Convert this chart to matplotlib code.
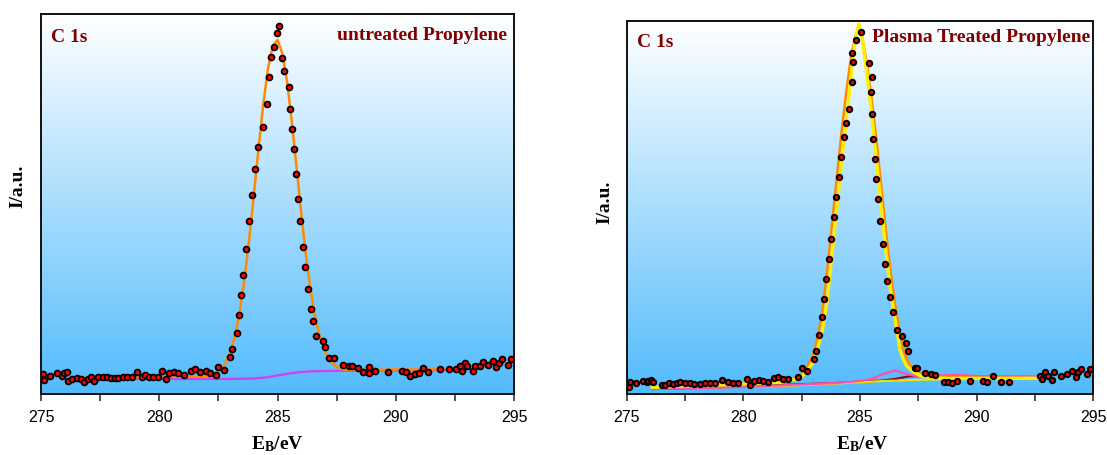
import numpy as np
import matplotlib
matplotlib.use("Agg")
import matplotlib.pyplot as plt

plt.rcParams['mathtext.fontset'] = 'custom'
plt.rcParams['mathtext.rm'] = 'Liberation Serif'
plt.rcParams['mathtext.bf'] = 'Liberation Serif:bold'
plt.rcParams['font.family'] = ['Liberation Sans', 'DejaVu Sans']

# ---------------- data: untreated (left) ----------------
left_x = [275.10, 275.13, 275.38, 275.66, 275.88, 275.99, 276.09, 276.13, 276.30, 276.51,
          276.68, 276.82, 277.00, 277.12, 277.25, 277.42, 277.61, 277.80, 277.96, 278.13,
          278.27, 278.46, 278.63, 278.84, 279.07, 279.26, 279.40, 279.57, 279.75, 279.96,
          280.13, 280.29, 280.43, 280.63, 280.81, 281.05, 281.35, 281.51, 281.73, 281.97,
          282.15, 282.39, 282.50, 282.74, 283.00, 283.07, 283.30, 283.38, 283.46, 283.55,
          283.67, 283.80, 283.93, 284.05, 284.18, 284.38, 284.55, 284.66, 284.72, 284.86,
          284.97, 285.08, 285.21, 285.29, 285.49, 285.53, 285.62, 285.70, 285.79, 285.87,
          285.96, 286.08, 286.17, 286.29, 286.42, 286.51, 286.63, 286.94, 287.01, 287.18,
          287.39, 287.79, 288.04, 288.17, 288.42, 288.63, 288.89, 288.89, 289.13, 289.69,
          290.26, 290.43, 290.61, 290.82, 291.00, 291.17, 291.36, 291.85, 292.27, 292.55,
          292.72, 292.82, 292.91, 293.03, 293.25, 293.33, 293.57, 293.67, 293.88, 294.13,
          294.25, 294.35, 294.49, 294.73, 294.87]
left_y = [20, 14.3, 17.7, 21, 18.3, 20.7, 21.7, 13.3, 15, 15.7,
          15, 12.3, 15, 16.7, 13.3, 16.7, 16.7, 16.7, 15.7, 15.7,
          15.7, 16.7, 16.7, 16.7, 21.7, 16.7, 19, 16.7, 16.7, 16.7,
          22.7, 15, 20.7, 21.7, 20.7, 19, 22.7, 25, 21.7, 22.7,
          21, 19, 27.3, 24.3, 36.7, 45, 61, 79, 99, 119,
          145, 173, 199, 225, 247, 267, 290, 317, 337, 347,
          361, 368, 336, 323, 307, 285, 265, 245, 220, 195,
          173, 147, 127, 105, 85, 73, 58, 53, 47, 36,
          36, 29, 28, 28, 26, 22, 27, 21, 23, 22,
          23, 22, 18, 20, 21, 26, 22, 25, 25, 25,
          28, 23, 31, 28, 23, 28, 28, 32, 29, 33,
          27, 31, 35, 29, 35]

left_fit_x = [276.2, 278.0, 280.0, 281.0, 282.0, 282.2, 282.4, 282.6, 282.8, 283.0,
              283.2, 283.4, 283.6, 283.8, 284.0, 284.2, 284.4, 284.6, 284.8, 285.0,
              285.2, 285.4, 285.6, 285.8, 286.0, 286.2, 286.4, 286.6, 286.8, 287.0,
              287.2, 287.4, 287.6, 287.8, 288.0, 289.0, 290.0, 291.0, 292.5]
left_fit_y = [16, 16.5, 17, 17.5, 17, 18, 20, 24, 31, 42,
              58, 82, 114, 154, 199, 246, 290, 326, 348, 354,
              341, 313, 273.5, 228, 182, 139, 104, 76, 56, 43,
              34, 29, 26, 24.5, 24, 24, 24.5, 24.5, 25]

left_bg_x = [276.2, 283.0, 284.0, 284.5, 285.0, 285.5, 286.0, 286.5, 287.0, 288.6, 292.5]
left_bg_y = [15, 15, 15.5, 16.5, 18.5, 20.5, 22, 22.7, 23, 23.3, 24]

# ---------------- data: plasma treated (right) ----------------
right_x = [275.10, 275.14, 275.39, 275.71, 275.88, 275.93, 276.04, 276.14, 276.50, 276.64,
           276.81, 277.00, 277.14, 277.28, 277.50, 277.71, 277.90, 278.14, 278.36, 278.57,
           278.78, 279.07, 279.35, 279.57, 279.76, 280.14, 280.29, 280.46, 280.67, 280.86,
           281.07, 281.33, 281.50, 281.71, 281.93, 282.36, 282.50, 282.74, 283.03, 283.11,
           283.26, 283.37, 283.46, 283.54, 283.67, 283.76, 283.89, 283.97, 284.10, 284.19,
           284.32, 284.40, 284.54, 284.67, 284.69, 284.67, 284.82, 285.04, 285.39, 285.50,
           285.47, 285.50, 285.56, 285.65, 285.69, 285.78, 285.86, 285.99, 286.07, 286.16,
           286.29, 286.41, 286.57, 286.81, 286.96, 287.04, 287.36, 287.46, 287.79, 288.04,
           288.21, 288.61, 288.78, 288.93, 289.14, 289.72, 290.26, 290.43, 290.71, 291.03,
           291.39, 292.72, 292.79, 292.93, 293.05, 293.24, 293.33, 293.62, 293.86, 294.10,
           294.25, 294.33, 294.47, 294.72, 294.86]
right_y = [7.3, 12.3, 11, 13.3, 11.7, 13.3, 14.3, 12.3, 9, 9,
           11, 10, 11, 11.7, 10.7, 10.7, 10, 10, 10.7, 11,
           10.7, 14.3, 12.3, 11, 11, 15, 9, 13.3, 14, 13.3,
           12.3, 16, 17.3, 15, 15, 17.3, 25.7, 22.7, 35, 43.3,
           59.3, 77, 95, 115, 135, 155, 177, 197, 217, 237,
           257, 271, 285, 312, 332, 341, 354, 362, 331, 317,
           302, 280, 255, 235, 215, 195, 173, 150, 130, 113,
           97, 82, 64, 58.3, 51, 43.3, 26, 26, 20.7, 20,
           19, 12.3, 11.7, 11, 12.7, 12.7, 12.7, 12.3, 18.3, 11.7,
           12.3, 18.3, 15, 21.7, 18.3, 14, 21.7, 18.3, 20, 23.3,
           17.3, 21.7, 25, 20, 25]

right_env_x = [276.1, 278.0, 280.0, 281.0, 281.6, 282.0, 282.4, 282.7, 283.0, 283.2,
               283.4, 283.6, 283.8, 284.0, 284.2, 284.4, 284.6, 284.8, 284.95, 285.1,
               285.3, 285.5, 285.7, 285.9, 286.1, 286.3, 286.5, 286.6, 286.7, 286.85,
               287.0, 287.3, 287.6, 288.0, 288.7, 290.0, 292.6]
right_env_y = [6.7, 8.5, 10.0, 11.0, 11.7, 14, 15, 22, 32, 47,
               65, 95, 140, 185, 230, 272, 315, 355, 370, 355,
               320, 280, 235, 190, 145, 105, 75, 62, 45, 35,
               28, 22, 18, 16.5, 15.5, 15.5, 15.7]

right_sum_x = [276.1, 280.0, 282.0, 282.4, 282.7, 283.0, 283.2, 283.4, 283.6, 283.8,
               284.0, 284.2, 284.4, 284.6, 284.8, 284.95, 285.1, 285.3, 285.5, 285.7,
               285.9, 286.1, 286.3, 286.5, 286.7, 286.9, 287.1, 287.4, 287.8, 288.5,
               292.6]
right_sum_y = [6.7, 10.0, 15, 17, 25, 40, 58, 85, 125, 170,
               215, 260, 300, 335, 358, 364, 356, 330, 295, 255,
               210, 165, 125, 90, 62, 42, 30, 23, 19, 17,
               16]

right_c2_x = [276.1, 280.0, 282.0, 283.0, 284.0, 285.0, 285.5, 286.0, 286.5, 287.0,
              287.3, 288.0, 288.8, 289.3, 290.1, 292.6]
right_c2_y = [5, 7, 9, 10, 11, 13, 15, 20, 23.5, 20,
              18.3, 18, 19, 19, 17.7, 17]

right_c3_x = [276.1, 280.0, 281.6, 284.0, 285.9, 286.5, 287.1, 287.5, 288.1, 292.6]
right_c3_y = [5, 7.5, 9, 11, 13.3, 15, 17.7, 18, 17.3, 17]

right_bg_x = [276.1, 281.6, 284.0, 286.0, 288.0, 290.0, 292.6]
right_bg_y = [5.5, 8, 10.5, 13, 14.5, 15.2, 15.7]

xticks = [275, 280, 285, 290, 295]
xminor = [277.5, 282.5, 287.5, 292.5]

# ---------------- figure ----------------
W, H = 1107, 456
fig = plt.figure(figsize=(W / 100, H / 100), dpi=100)
ax1 = fig.add_axes([41 / W, 61 / H, 473 / W, 380 / H])
ax2 = fig.add_axes([626.7 / W, 61 / H, 466.6 / W, 373 / H])

top = np.array([1.0, 1.0, 1.0])
bot = np.array([83, 187, 252]) / 255.0
t = np.linspace(0, 1, 256)[:, None]
grad = (top * (1 - t) + bot * t)[:, None, :]

serif_bold = dict(family='Liberation Serif', weight='bold')

for ax, ylim in ((ax1, 380), (ax2, 373)):
    ax.imshow(grad, extent=[0, 1, 0, 1], transform=ax.transAxes, aspect='auto',
              zorder=0, interpolation='bilinear')
    ax.set_xlim(275, 295)
    ax.set_ylim(0, ylim)
    ax.set_xticks(xticks)
    ax.set_xticks(xminor, minor=True)
    ax.set_yticks([])
    ax.tick_params(axis='x', which='both', direction='out', length=5, width=1.1,
                   labelsize=11.5, pad=6, color='#222222')
    for s in ax.spines.values():
        s.set_linewidth(1.4)
        s.set_color('#111111')
        s.set_zorder(10)

# left panel
ax1.plot(left_bg_x, left_bg_y, color='#d63cf2', lw=1.6, zorder=2)
ax1.plot(left_fit_x, left_fit_y, color='#ff8a00', lw=1.8, zorder=3)
ax1.plot(left_x, left_y, ls='none', marker='o', ms=4.2, mfc='#ff0000', mec='black',
         mew=1.3, zorder=4)
ax1.text(0.021, 0.942, 'C 1s', transform=ax1.transAxes, ha='left', va='center',
         fontsize=14, color='#800000', **serif_bold)
ax1.text(0.986, 0.947, 'untreated Propylene', transform=ax1.transAxes, ha='right',
         va='center', fontsize=14, color='#800000', **serif_bold)

# right panel
ax2.plot(right_c3_x, right_c3_y, color='#8b0a1a', lw=1.6, zorder=2)
ax2.plot(right_bg_x, right_bg_y, color='#f5e400', lw=1.5, zorder=2)
ax2.plot(right_c2_x, right_c2_y, color='#ff4fb0', lw=1.6, zorder=2)
ax2.plot(right_sum_x, right_sum_y, color='#ff8a00', lw=1.8, zorder=3)
ax2.plot(right_env_x, right_env_y, color='#ffee00', lw=2.4, zorder=3)
ax2.plot(right_x, right_y, ls='none', marker='o', ms=3.8, mfc='#ff0000', mec='black',
         mew=1.5, zorder=4)
ax2.text(0.0214, 0.9445, 'C 1s', transform=ax2.transAxes, ha='left', va='center',
         fontsize=14, color='#800000', **serif_bold)
ax2.text(0.993, 0.958, 'Plasma Treated Propylene', transform=ax2.transAxes, ha='right',
         va='center', fontsize=14, color='#800000', **serif_bold)

# axis labels
fig.text(277 / W, 1 - 444 / H, r'$\mathbf{E_B/eV}$', ha='center', va='center', fontsize=14)
fig.text(862 / W, 1 - 444 / H, r'$\mathbf{E_B/eV}$', ha='center', va='center', fontsize=14)
fig.text(17.5 / W, 1 - 186 / H, 'I/a.u.', rotation=90, ha='center', va='center',
         fontsize=14, **serif_bold)
fig.text(604.5 / W, 1 - 202.5 / H, 'I/a.u.', rotation=90, ha='center', va='center',
         fontsize=14, **serif_bold)

fig.savefig('out.png', dpi=100)
